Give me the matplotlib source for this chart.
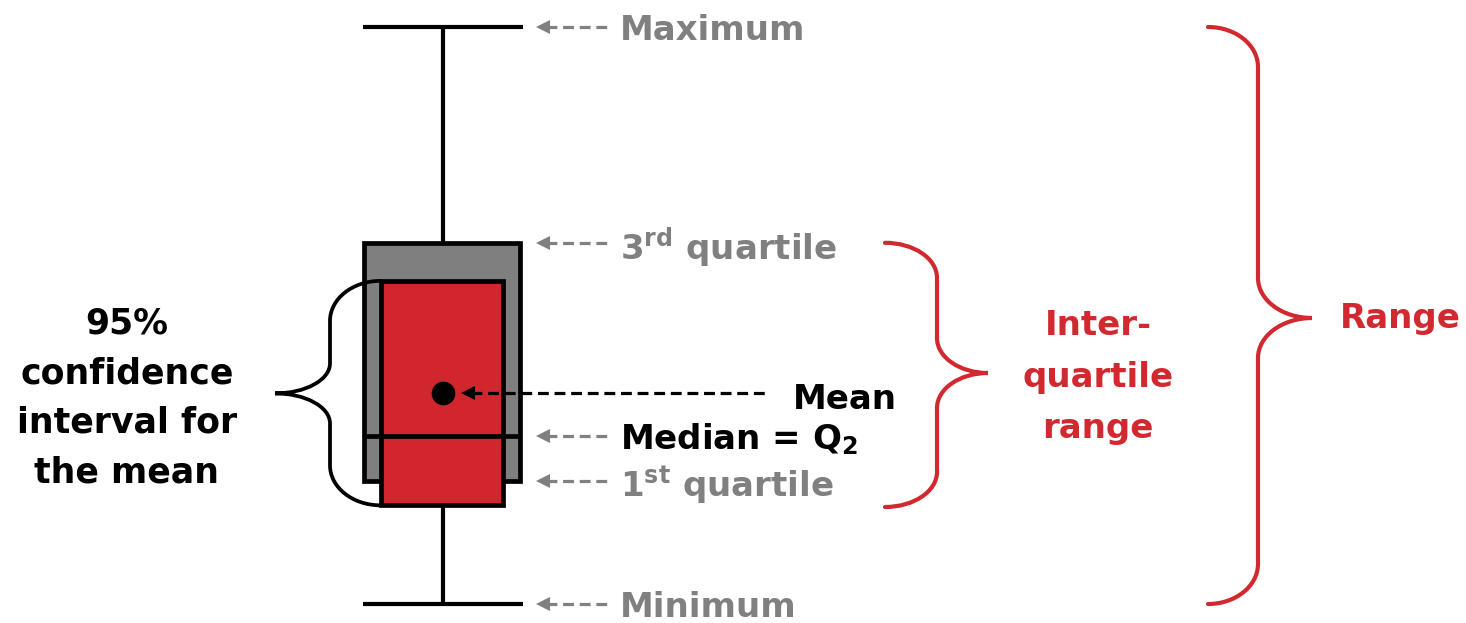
import matplotlib
matplotlib.use("Agg")
import matplotlib.pyplot as plt
from matplotlib.path import Path
from matplotlib.patches import PathPatch

# ---- box-plot statistics (arbitrary value units) ----
stat_names = ["Minimum", "Q1", "Median", "Q3", "Maximum"]
stat_values = [0.0, 2.13, 2.92, 6.26, 10.0]
mean_value = 3.65
ci_values = [1.71, 5.60]          # 95% CI for the mean

# ---- labels ----
gray_labels = ["Maximum", r"3$^{\mathbf{rd}}$ quartile", r"1$^{\mathbf{st}}$ quartile", "Minimum"]
median_label = r"Median = Q$_{\mathbf{2}}$"
mean_label = "Mean"
ci_label_lines = ["95%", "confidence", "interval for", "the mean"]
iqr_label_lines = ["Inter-", "quartile", "range"]
range_label = "Range"

plt.rcParams['font.family'] = ['DejaVu Sans']
plt.rcParams['mathtext.fontset'] = 'dejavusans'

RED = "#D2282F"
GRAY = "#7F7F7F"
TXTGRAY = "#808080"

PX = 57.7  # pixels per value unit (layout)
def v(py):
    return (604 - py) / PX

fig = plt.figure(figsize=(14.66, 6.23), dpi=100)
ax = fig.add_axes([0, 0, 1, 1])
ax.set_xlim(0, 1466)
ax.set_ylim(v(623), v(0))
ax.axis("off")

vmin, q1, med, q3, vmax = stat_values
cx = 442.5
lw = 3.4

# whisker line and caps
ax.plot([cx, cx], [vmin, vmax], color="black", lw=3.0, zorder=1, solid_capstyle="butt")
ax.hlines([vmin, vmax], cx - 80, cx + 80, color="black", lw=3.0, zorder=1)

# IQR box
ax.bar(cx - 0.5, q3 - q1, bottom=q1, width=156, color=GRAY, edgecolor="black",
       lw=lw, zorder=2)
# CI box
ax.bar(cx - 1, ci_values[1] - ci_values[0], bottom=ci_values[0], width=122,
       color="#D1262D", edgecolor="black", lw=lw, zorder=3)
# median
ax.hlines(med, cx - 78.5, cx + 77.5, color="black", lw=lw, zorder=4)
# mean
ax.plot([cx], [mean_value], "o", color="black", ms=16, zorder=5)


def dashed_arrow(x_tip, x_end, y, color, lw_pt=2.3):
    ax.plot([x_tip + 9, x_end], [y, y], color=color, lw=lw_pt,
            dashes=(3.4, 1.8), solid_capstyle="butt", zorder=6)
    ax.plot([x_tip + 6], [y], marker="<", color=color, ms=10, mew=0, zorder=6)


fs = 24.5
# gray labels with arrows
gray_y = [vmax, q3, q1, vmin]
for lab, y in zip(gray_labels, gray_y):
    dashed_arrow(537, 608, y, TXTGRAY)
    ax.text(620, y, lab, color=TXTGRAY, fontsize=fs, fontweight="bold",
            ha="left", va="center_baseline")

# median
dashed_arrow(537, 608, med, TXTGRAY)
ax.text(620, med, median_label, color="black", fontsize=fs, fontweight="bold",
        ha="left", va="center_baseline")

# mean
dashed_arrow(462, 768, mean_value, "black", lw_pt=2.3)
ax.text(793, mean_value - 0.04, mean_label, color="black", fontsize=fs,
        fontweight="bold", ha="left", va="center_baseline")


def brace(x_end, x_vert, x_tip, y_top, y_mid, y_bot, r_end, r_tip, color, lw_pt):
    k = 0.552
    s = 1 if y_top > y_bot else -1
    verts = [
        (x_end, y_top),
        (x_end + k * (x_vert - x_end), y_top), (x_vert, y_top - s * r_end * (1 - k)), (x_vert, y_top - s * r_end),
        (x_vert, y_mid + s * r_tip),
        (x_vert, y_mid + s * r_tip * (1 - k)), (x_tip - k * (x_tip - x_vert), y_mid), (x_tip, y_mid),
        (x_tip - k * (x_tip - x_vert), y_mid), (x_vert, y_mid - s * r_tip * (1 - k)), (x_vert, y_mid - s * r_tip),
        (x_vert, y_bot + s * r_end),
        (x_vert, y_bot + s * r_end * (1 - k)), (x_end + k * (x_vert - x_end), y_bot), (x_end, y_bot),
    ]
    codes = [Path.MOVETO,
             Path.CURVE4, Path.CURVE4, Path.CURVE4,
             Path.LINETO,
             Path.CURVE4, Path.CURVE4, Path.CURVE4,
             Path.CURVE4, Path.CURVE4, Path.CURVE4,
             Path.LINETO,
             Path.CURVE4, Path.CURVE4, Path.CURVE4]
    ax.add_patch(PathPatch(Path(verts, codes), fill=False, edgecolor=color,
                           lw=lw_pt, capstyle="round", zorder=7))


# CI brace (tip on left)
brace(380.5, 330, 275, ci_values[1], mean_value, ci_values[0],
      40 / PX, 30 / PX, "black", 2.7)
# IQR brace
brace(885, 937, 988, q3, v(373), v(507), 35 / PX, 35 / PX, RED, 3.0)
# Range brace
brace(1208, 1258, 1312, vmax, v(318), vmin, 40 / PX, 40 / PX, RED, 3.0)

# CI label
for i, line in enumerate(ci_label_lines):
    ax.text(127, v(320 + 49.7 * i), line, color="black", fontsize=25,
            fontweight="bold", ha="center", va="center_baseline")
# IQR label
for i, line in enumerate(iqr_label_lines):
    ax.text(1098, v(322 + 51.5 * i), line, color=RED, fontsize=fs,
            fontweight="bold", ha="center", va="center_baseline")
# Range label
ax.text(1340, v(315), range_label, color=RED, fontsize=fs, fontweight="bold",
        ha="left", va="center_baseline")

fig.savefig("out.png", dpi=100, facecolor="white")
